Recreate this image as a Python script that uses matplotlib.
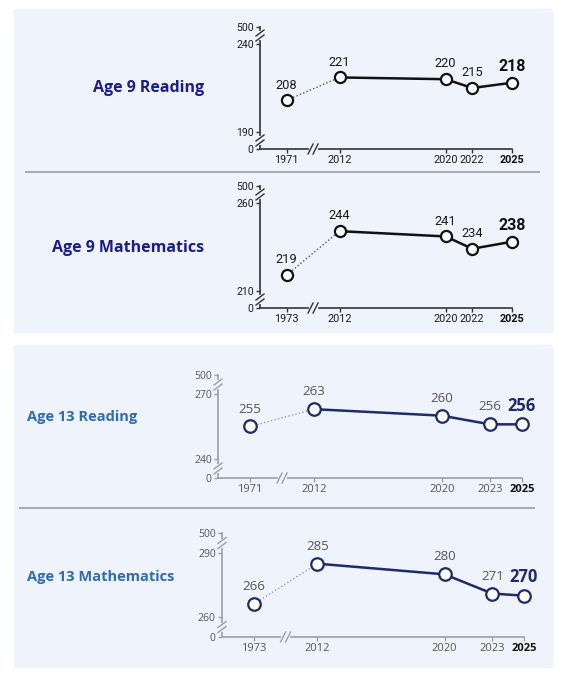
import matplotlib.pyplot as plt
from matplotlib.patches import Rectangle
from matplotlib.lines import Line2D

# scores
years_read9 = [1971, 2012, 2020, 2022, 2025]
scores_read9 = [208, 221, 220, 215, 218]
years_math9 = [1973, 2012, 2020, 2022, 2025]
scores_math9 = [219, 244, 241, 234, 238]
years_read13 = [1971, 2012, 2020, 2023, 2025]
scores_read13 = [255, 263, 260, 256, 256]
years_math13 = [1973, 2012, 2020, 2023, 2025]
scores_math13 = [266, 285, 280, 271, 270]

W, H = 564, 680
BG = '#eef3fc'
fig = plt.figure(figsize=(W / 100, H / 100), dpi=100)

ROBOTO = ['Roboto', 'DejaVu Sans']
OPEN = ['Open Sans', 'DejaVu Sans']


def fig_box(left, top, right, bottom):
    return [left / W, 1 - bottom / H, (right - left) / W, (bottom - top) / H]


# background cards and separators
for top, bottom in [(9, 332), (345, 667)]:
    b = fig_box(14, top, 552, bottom)
    fig.patches.append(Rectangle((b[0], b[1]), b[2], b[3], transform=fig.transFigure,
                                 color=BG, zorder=-5))
for x0, x1, y in [(26, 539, 172), (20, 534, 508)]:
    fig.lines.append(Line2D([x0 / W, x1 / W], [1 - y / H] * 2, transform=fig.transFigure,
                            color='#a0a3a8', lw=1.3, zorder=-4))


def xpos(year):
    # years before the axis break sit at a fixed spot left of the break
    return year if year >= 2012 else 2008


def slashes(ax, cx, cy, wpx, hpx, along_y, color):
    # broken-axis mark: a gap in the spine with two parallel slashes
    fx, fy = 1 / wpx, 1 / hpx
    if along_y:
        ax.plot([cx, cx], [cy - 2.5 * fy, cy + 2.5 * fy], color=BG, lw=3,
                transform=ax.transAxes, clip_on=False, zorder=5)
        for d in (-2.5, 2.5):
            ax.plot([cx - 4 * fx, cx + 4 * fx], [cy + (d - 3) * fy, cy + (d + 3) * fy],
                    color=color, lw=1, transform=ax.transAxes, clip_on=False, zorder=6)
    else:
        ax.plot([cx - 2.5 * fx, cx + 2.5 * fx], [cy, cy], color=BG, lw=3,
                transform=ax.transAxes, clip_on=False, zorder=5)
        for d in (-2.5, 2.5):
            ax.plot([cx + (d - 2.5) * fx, cx + (d + 2.5) * fx], [cy - 5 * fy, cy + 5 * fy],
                    color=color, lw=1, transform=ax.transAxes, clip_on=False, zorder=6)


def draw_panel(box, ticks, years, scores, st):
    left, right, top, bottom, y_lo, y_hi = box
    lo, hi = ticks
    ax = fig.add_axes(fig_box(left, top, right, bottom))
    upp = (hi - lo) / (y_lo - y_hi)
    ymin = lo - (bottom - y_lo) * upp
    ymax = hi + (y_hi - top) * upp
    ax.set_xlim(2006, 2025)
    ax.set_ylim(ymin, ymax)
    ax.patch.set_visible(False)
    for s in ['top', 'right']:
        ax.spines[s].set_visible(False)
    for s in ['left', 'bottom']:
        ax.spines[s].set_color(st['axis'])
        ax.spines[s].set_linewidth(1.2)

    xs = [xpos(y) for y in years]
    ax.plot(xs[:2], scores[:2], ls=(0, (1, 1.6)), color=st['dot'], lw=1, zorder=2)
    ax.plot(xs[1:], scores[1:], color=st['line'], lw=1.8, zorder=3)
    ax.plot(xs, scores, 'o', ms=st['ms'], mfc='white', mec=st['line'], mew=1.6,
            zorder=4, clip_on=False)

    for i, (x, v) in enumerate(zip(xs, scores)):
        last = i == len(xs) - 1
        ax.annotate(str(v), (x, v), xytext=(0, st['off'] + (1 if last else 0)),
                    textcoords='offset points', ha='center', va='center',
                    fontsize=st['big'] if last else st['lab'],
                    fontweight='bold' if last else 'normal',
                    color=st['last'] if last else st['text'], family=st['font'])

    ax.set_xticks(xs)
    ax.set_xticklabels([str(y) for y in years], family=st['font'],
                       fontsize=st['tick'], color=st['text'])
    ax.get_xticklabels()[-1].set_fontweight('bold')
    ax.get_xticklabels()[-1].set_color('#111111')
    ax.set_yticks([ymin, lo, hi, ymax])
    ax.set_yticklabels(['0', str(lo), str(hi), '500'], family=st['font'],
                       fontsize=st['ytick'], color=st['text'])
    ax.tick_params(axis='x', length=3, width=1, pad=1.5, color=st['axis'])
    ax.tick_params(axis='y', length=3, width=1, pad=1.5, color=st['axis'])

    wpx, hpx = right - left, bottom - top
    slashes(ax, 0, (bottom - (bottom + y_lo) / 2) / hpx, wpx, hpx, True, st['axis'])
    slashes(ax, 0, (bottom - (top + y_hi) / 2) / hpx, wpx, hpx, True, st['axis'])
    slashes(ax, (2010 - 2006) / 19, 0, wpx, hpx, False, st['axis'])
    return ax


dark = dict(line='#111111', dot='#555555', axis='#333333', text='#1a1a1a', last='#111111',
            font=ROBOTO, lab=9.3, big=11.5, tick=7.8, ytick=7.6, off=11, ms=8)
navy = dict(line='#1d2a6c', dot='#9a9ca4', axis='#9c9fa6', text='#555555', last='#1d2a6c',
            font=OPEN, lab=9.5, big=12, tick=8, ytick=7.5, off=12.5, ms=9)

draw_panel((260, 512, 27, 149, 132, 44), (190, 240), years_read9, scores_read9, dark)
draw_panel((260, 512, 186, 308, 291, 203), (210, 260), years_math9, scores_math9, dark)
draw_panel((218, 522, 375, 478, 459, 394), (240, 270), years_read13, scores_read13, navy)
draw_panel((222, 524, 533, 637, 617, 553), (260, 290), years_math13, scores_math13, navy)

fig.text(204 / W, 1 - 88 / H, 'Age 9 Reading', ha='right', va='center', fontsize=11.5,
         fontweight='bold', color='#1a1d8f', family=OPEN)
fig.text(204 / W, 1 - 248 / H, 'Age 9 Mathematics', ha='right', va='center', fontsize=11.5,
         fontweight='bold', color='#1a1d8f', family=OPEN)
fig.text(27 / W, 1 - 417 / H, 'Age 13 Reading', ha='left', va='center', fontsize=10.5,
         fontweight='bold', color='#2f6cb6', family=OPEN)
fig.text(27 / W, 1 - 577 / H, 'Age 13 Mathematics', ha='left', va='center', fontsize=10.5,
         fontweight='bold', color='#2f6cb6', family=OPEN)

fig.savefig('out.png', dpi=100)
